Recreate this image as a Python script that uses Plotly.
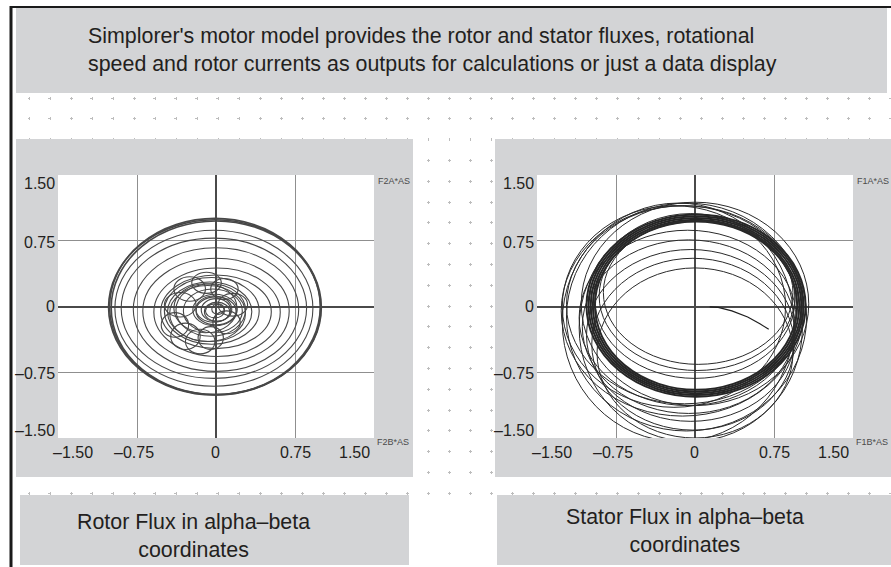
import plotly.graph_objects as go

W, H = 891, 567

# ---------------- data ----------------
axis_ticks = [-1.5, -0.75, 0, 0.75, 1.5]
axis_tick_text = ["–1.50", "–0.75", "0", "0.75", "1.50"]
grid_vals = [-0.75, 0.75]

header_text = ("Simplorer's motor model provides the rotor and stator fluxes, rotational<br>"
               "speed and rotor currents as outputs for calculations or just a data display")
rotor_caption = "Rotor Flux in alpha–beta<br>coordinates"
stator_caption = "Stator Flux in alpha–beta<br>coordinates"
rotor_corner_labels = ["F2A*AS", "F2B*AS"]
stator_corner_labels = ["F1A*AS", "F1B*AS"]

# Rotor flux loops: centre (cx, cy) and semi-axes (rx, ry) in flux units
rotor_cx = [-0.01, 0.00, -0.01, -0.02, -0.02, 0.00, 0.00, 0.01, 0.00, -0.04, -0.06, -0.05, -0.03,
            -0.01, 0.00, -0.02, 0.00, 0.01, -0.01, 0.02, -0.08, -0.10,
            -0.29, -0.15, -0.05, -0.39, -0.34, -0.25, -0.09, 0.08, 0.16, 0.10]
rotor_cy = [-0.01, -0.015, 0.00, -0.02, -0.02, -0.035, -0.05, -0.065, -0.06, -0.05, -0.06, -0.04, -0.05,
            -0.04, -0.05, -0.03, -0.04, -0.06, -0.05, -0.03, -0.08, -0.02,
            -0.34, -0.40, -0.36, -0.21, 0.02, 0.20, 0.27, 0.20, 0.02, -0.18]
rotor_rx = [1.01, 0.995, 1.00, 0.94, 0.88, 0.785, 0.695, 0.60, 0.525, 0.45, 0.40, 0.33, 0.28,
            0.21, 0.19, 0.17, 0.14, 0.12, 0.09, 0.06, 0.36, 0.30,
            0.14, 0.14, 0.12, 0.13, 0.15, 0.15, 0.14, 0.13, 0.14, 0.13]
rotor_ry = [1.00, 0.99, 1.005, 0.89, 0.80, 0.705, 0.60, 0.505, 0.42, 0.38, 0.34, 0.30, 0.25,
            0.18, 0.16, 0.15, 0.13, 0.11, 0.08, 0.06, 0.32, 0.28,
            0.15, 0.14, 0.13, 0.14, 0.14, 0.14, 0.12, 0.12, 0.13, 0.13]

# Stator flux: dense steady-state ring
stator_ring_cx = [0.01, 0.01, 0.01, 0.01, 0.01]
stator_ring_cy = [0.01, 0.01, 0.01, 0.01, 0.01]
stator_ring_r = [0.96, 0.98, 1.00, 1.02, 1.04]
# Stator flux: transient loops
stator_cx = [0.00, -0.02, -0.04, -0.06, -0.07, -0.12, -0.08, -0.16, -0.04, -0.20, 0.00, -0.10,
             0.02, 0.00, 0.03]
stator_cy = [-0.53, -0.43, -0.33, -0.23, -0.13, -0.05, -0.12, -0.18, -0.24, 0.00, 0.03, 0.02,
             0.12, 0.08, 0.16]
stator_rx = [0.93, 0.96, 0.99, 1.01, 1.03, 1.15, 1.14, 1.10, 1.06, 1.06, 1.08, 1.12,
             0.93, 0.95, 0.90]
stator_ry = [0.97, 0.98, 0.98, 0.99, 1.00, 1.20, 1.30, 1.36, 1.30, 1.15, 1.16, 1.13,
             0.85, 0.90, 0.82]
# Stator flux: start of the trajectory
stator_start_x = [0.14, 0.22, 0.35, 0.50, 0.62, 0.70]
stator_start_y = [-0.005, -0.01, -0.05, -0.12, -0.20, -0.26]

# ---------------- layout helpers ----------------
GREY = "#d3d4d6"
TXT = "#231f20"


def px(x):
    return x / W


def py(y):
    return 1 - y / H


fig = go.Figure()

# plot areas in pixels
LEFT = (58, 374)
RIGHT = (537, 853)
TOPB = (175, 438)

main_axis = dict(range=[-1.5, 1.5], tickvals=grid_vals, showgrid=True, gridcolor="#8f8f8f",
                 gridwidth=1, zeroline=True, zerolinecolor="#4a4a4a", zerolinewidth=2,
                 showticklabels=False, ticks="", showline=False, fixedrange=True)

layout_axes = {
    "xaxis": dict(main_axis, domain=[px(LEFT[0]), px(LEFT[1])], anchor="y"),
    "yaxis": dict(main_axis, domain=[py(TOPB[1]), py(TOPB[0])], anchor="x"),
    "xaxis2": dict(main_axis, domain=[px(RIGHT[0]), px(RIGHT[1])], anchor="y2"),
    "yaxis2": dict(main_axis, domain=[py(TOPB[1]), py(TOPB[0])], anchor="x2"),
}

# background dotted design grid (only in the white gaps)
COL0, COLSTEP = 428.0, 21.0
ROW0, ROWSTEP = 98.0, 20.8
MARK = 3.0


def dash_for(start, centre0, step, mark):
    phase = (centre0 - mark / 2 - start) % step
    if phase + mark <= step:
        parts = [0, phase, mark, step - mark - phase]
    else:
        first = phase + mark - step
        parts = [first, phase - first, step - phase, 0]
    return ",".join(f"{p:.2f}px" for p in parts)


bands = [(12, 891, 93, 139), (413, 495, 139, 495), (12, 891, 477, 495)]
for i, (x0, x1, y0, y1) in enumerate(bands):
    n = i + 3
    cols, c = [], COL0 - COLSTEP * 30
    while c < x1:
        if c > x0:
            cols.append(c)
        c += COLSTEP
    rows, r = [], ROW0
    while r < y1:
        if r > y0:
            rows.append(r)
        r += ROWSTEP
    layout_axes[f"xaxis{n}"] = dict(domain=[px(x0), px(x1)], range=[x0, x1], anchor=f"y{n}",
                                    tickvals=cols, showgrid=True, gridcolor="#bdbdbd", gridwidth=1,
                                    griddash=dash_for(y0, ROW0, ROWSTEP, MARK),
                                    zeroline=False, showticklabels=False, ticks="", showline=False,
                                    fixedrange=True)
    layout_axes[f"yaxis{n}"] = dict(domain=[py(y1), py(y0)], range=[y1, y0], anchor=f"x{n}",
                                    tickvals=rows, showgrid=True, gridcolor="#bdbdbd", gridwidth=1,
                                    griddash=dash_for(x0, COL0, COLSTEP, MARK),
                                    zeroline=False, showticklabels=False, ticks="", showline=False,
                                    fixedrange=True)
    fig.add_trace(go.Scatter(x=[], y=[], xaxis=f"x{n}", yaxis=f"y{n}", showlegend=False,
                             hoverinfo="skip"))

# empty anchor trace for the rotor plot, start trajectory for the stator plot
fig.add_trace(go.Scatter(x=[], y=[], xaxis="x", yaxis="y", showlegend=False, hoverinfo="skip"))
fig.add_trace(go.Scatter(x=stator_start_x, y=stator_start_y, xaxis="x2", yaxis="y2", mode="lines",
                         line=dict(color="#1e1e1e", width=1.2), showlegend=False, hoverinfo="skip"))

shapes = []
# grey panels
for (x0, x1, y0, y1) in [(16, 887, 8, 93), (16, 413, 139, 477), (495, 891, 139, 477),
                         (20, 409, 495, 565), (497, 891, 495, 565)]:
    shapes.append(dict(type="rect", xref="paper", yref="paper", x0=px(x0), x1=px(x1),
                       y0=py(y1), y1=py(y0), fillcolor=GREY, line=dict(width=0), layer="below"))
# white plot areas
for xr, yr in [("x", "y"), ("x2", "y2")]:
    shapes.append(dict(type="rect", xref=f"{xr} domain", yref=f"{yr} domain", x0=0, x1=1, y0=0, y1=1,
                       fillcolor="white", line=dict(width=0), layer="below"))
# outer frame
shapes.append(dict(type="line", xref="paper", yref="paper", x0=px(11), x1=px(11), y0=0, y1=py(6),
                   line=dict(color="#1a1a1a", width=3)))
shapes.append(dict(type="line", xref="paper", yref="paper", x0=px(10), x1=1, y0=py(7), y1=py(7),
                   line=dict(color="#1a1a1a", width=2)))

# rotor loops
for i, (cx, cy, rx, ry) in enumerate(zip(rotor_cx, rotor_cy, rotor_rx, rotor_ry)):
    shapes.append(dict(type="circle", xref="x", yref="y", x0=cx - rx, x1=cx + rx, y0=cy - ry,
                       y1=cy + ry, line=dict(color="#474747", width=1.6 if i < 3 else 1.1)))
# stator dense ring
for cx, cy, r in zip(stator_ring_cx, stator_ring_cy, stator_ring_r):
    shapes.append(dict(type="circle", xref="x2", yref="y2", x0=cx - r, x1=cx + r, y0=cy - r,
                       y1=cy + r, line=dict(color="#262626", width=2)))
# stator transient loops
for cx, cy, rx, ry in zip(stator_cx, stator_cy, stator_rx, stator_ry):
    shapes.append(dict(type="circle", xref="x2", yref="y2", x0=cx - rx, x1=cx + rx, y0=cy - ry,
                       y1=cy + ry, line=dict(color="#2a2a2a", width=1)))

annotations = []
FONT = "Liberation Sans, Arial, Helvetica, sans-serif"
annotations.append(dict(text=header_text, xref="paper", yref="paper", x=px(86), y=py(50),
                        xanchor="left", yanchor="middle", align="left", showarrow=False,
                        font=dict(family=FONT, size=21.4, color=TXT)))
annotations.append(dict(text=rotor_caption, xref="paper", yref="paper", x=px(193), y=py(536),
                        xanchor="center", yanchor="middle", align="center", showarrow=False,
                        font=dict(family=FONT, size=21.4, color=TXT)))
annotations.append(dict(text=stator_caption, xref="paper", yref="paper", x=px(685), y=py(531),
                        xanchor="center", yanchor="middle", align="center", showarrow=False,
                        font=dict(family=FONT, size=21.4, color=TXT)))

x_shift = [15, -3, -1, 0, -20]
y_shift = [8, -1, 0, -2, -8]
for xr, yr, corner in [("x", "y", rotor_corner_labels), ("x2", "y2", stator_corner_labels)]:
    for v, t, s in zip(axis_ticks, axis_tick_text, x_shift):
        annotations.append(dict(text=t, xref=xr, yref=f"{yr} domain", x=v, y=0, xanchor="center",
                                yanchor="middle", xshift=s, yshift=-14, showarrow=False,
                                font=dict(family=FONT, size=16, color=TXT)))
    for v, t, s in zip(axis_ticks, axis_tick_text, y_shift):
        annotations.append(dict(text=t, xref=f"{xr} domain", yref=yr, x=0, y=v, xanchor="right",
                                yanchor="middle", xshift=-1, yshift=s, showarrow=False,
                                font=dict(family=FONT, size=16, color=TXT)))
    annotations.append(dict(text=corner[0], xref=f"{xr} domain", yref=f"{yr} domain", x=1, y=1,
                            xanchor="left", yanchor="top", xshift=2, yshift=1, showarrow=False,
                            font=dict(family=FONT, size=9, color="#4a4a4a")))
    annotations.append(dict(text=corner[1], xref=f"{xr} domain", yref=f"{yr} domain", x=1, y=0,
                            xanchor="left", yanchor="middle", xshift=1, yshift=-4, showarrow=False,
                            font=dict(family=FONT, size=9, color="#4a4a4a")))

fig.update_layout(width=W, height=H, autosize=False, margin=dict(l=0, r=0, t=0, b=0),
                  paper_bgcolor="white", plot_bgcolor="rgba(0,0,0,0)", showlegend=False,
                  shapes=shapes, annotations=annotations, **layout_axes)

fig.write_html("out.html", config={"displayModeBar": False},
               post_script="document.body.style.margin='0';")
